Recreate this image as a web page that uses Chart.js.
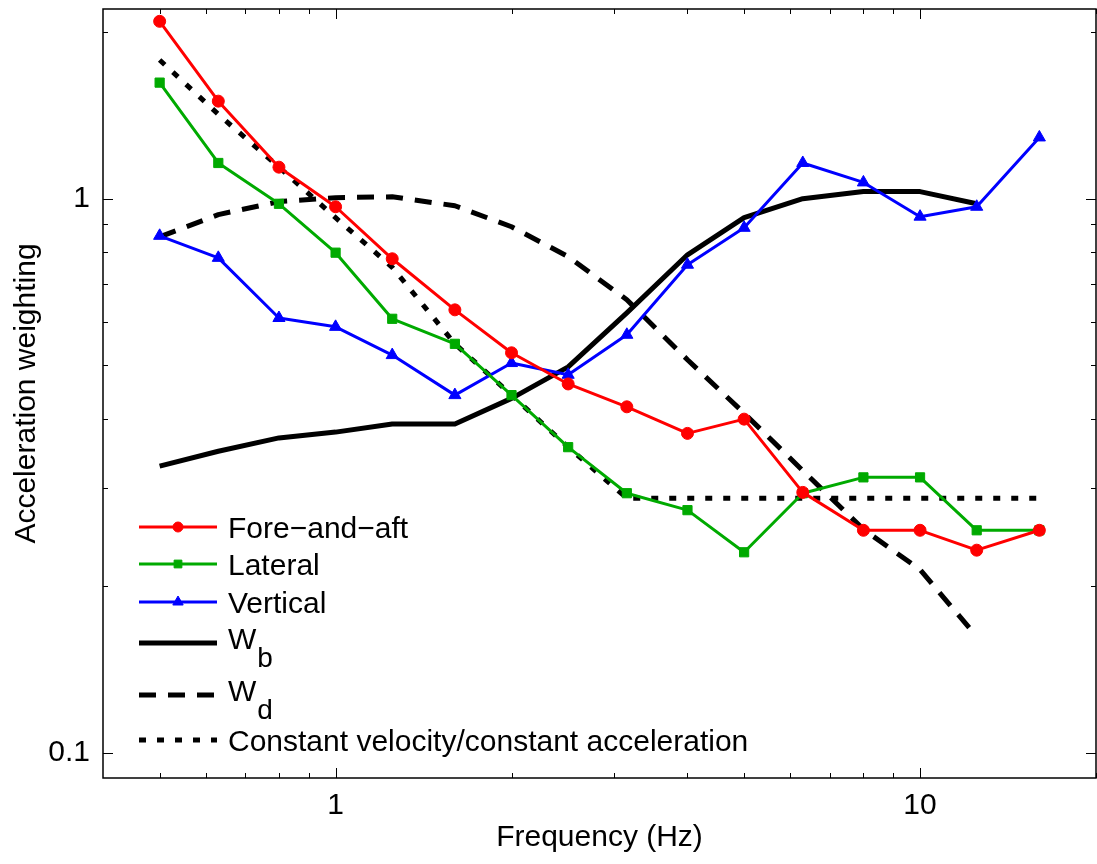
<!DOCTYPE html>
<html>
<head>
<meta charset="utf-8">
<script src="https://cdn.jsdelivr.net/npm/chart.js@4.4.1/dist/chart.umd.min.js"></script>
<style>
  html, body { margin: 0; padding: 0; background: #fff; }
  #wrap { width: 1097px; height: 864px; }
</style>
</head>
<body>
<div id="wrap"><canvas id="graph" width="1097" height="864"></canvas></div>
<script>
// one-third octave centre frequencies (Hz)
var freqs = [0.5, 0.63, 0.8, 1, 1.25, 1.6, 2, 2.5, 3.15, 4, 5, 6.3, 8, 10, 12.5, 16];
var foreAft = [2.09, 1.50, 1.14, 0.967, 0.779, 0.630, 0.527, 0.463, 0.421, 0.377, 0.400, 0.295, 0.252, 0.252, 0.232, 0.252];
var lateral = [1.62, 1.16, 0.979, 0.799, 0.607, 0.547, 0.442, 0.356, 0.294, 0.274, 0.230, 0.294, 0.314, 0.314, 0.252, 0.252];
var vertical = [0.857, 0.782, 0.609, 0.587, 0.522, 0.442, 0.505, 0.481, 0.568, 0.760, 0.886, 1.16, 1.07, 0.928, 0.967, 1.29];
// weightings stop at 12.5 Hz
var wb = [0.329, 0.350, 0.370, 0.379, 0.392, 0.392, 0.436, 0.497, 0.622, 0.792, 0.924, 1.00, 1.03, 1.03, 0.979];
var wd = [0.853, 0.936, 0.988, 1.004, 1.008, 0.971, 0.890, 0.786, 0.657, 0.512, 0.410, 0.323, 0.253, 0.214, 0.162];
var constVelAcc = [1.78, 1.42, 1.14, 0.924, 0.752, 0.547, 0.442, 0.356, 0.288, 0.288, 0.288, 0.288, 0.288, 0.288, 0.288, 0.288];

var xMajor = [1, 10];
var xMinor = [0.5, 0.6, 0.7, 0.8, 0.9, 2, 3, 4, 5, 6, 7, 8, 9, 20];
var yMajor = [0.1, 1];
var yMinor = [0.2, 0.3, 0.4, 0.5, 0.6, 0.7, 0.8, 0.9, 2];

var FONT = "'Liberation Sans', Arial, Helvetica, sans-serif";
var ctx = document.getElementById('graph').getContext('2d');

function pts(vals){
    return vals.map(function(v, i){ return {x: freqs[i], y: v}; });
}

// frame with inward ticks on all four sides, like the original
var framePlugin = {
    id: 'frame',
    afterDatasetsDraw: function(chart){
        var c = chart.ctx, a = chart.chartArea, sx = chart.scales.x, sy = chart.scales.y;
        c.save();
        c.strokeStyle = '#000';
        c.setLineDash([]);
        c.lineWidth = 1;
        function xt(v, len){
            var p = Math.round(sx.getPixelForValue(v)) + 0.5;
            c.beginPath();
            c.moveTo(p, a.bottom); c.lineTo(p, a.bottom - len);
            c.moveTo(p, a.top); c.lineTo(p, a.top + len);
            c.stroke();
        }
        function yt(v, len){
            var p = Math.round(sy.getPixelForValue(v)) + 0.5;
            c.beginPath();
            c.moveTo(a.left, p); c.lineTo(a.left + len, p);
            c.moveTo(a.right, p); c.lineTo(a.right - len, p);
            c.stroke();
        }
        xMajor.forEach(function(v){ xt(v, 10); });
        xMinor.forEach(function(v){ xt(v, 5); });
        yMajor.forEach(function(v){ yt(v, 10); });
        yMinor.forEach(function(v){ yt(v, 5); });
        c.lineWidth = 1.5;
        c.strokeRect(a.left, a.top, a.right - a.left, a.bottom - a.top);
        c.restore();
    }
};

// legend drawn by hand so W_b and W_d can have subscripts
var legendRows = [-251, -214, -176, -135, -83, -38];
var legendPlugin = {
    id: 'subLegend',
    afterDraw: function(chart){
        var c = chart.ctx, a = chart.chartArea;
        var x0 = a.left + 36, x1 = a.left + 114, tx = a.left + 125;
        c.save();
        chart.data.datasets.forEach(function(ds, i){
            var y = a.bottom + legendRows[i];
            c.strokeStyle = ds.borderColor;
            c.lineWidth = ds.borderWidth;
            c.setLineDash(ds.borderDash || []);
            c.beginPath();
            c.moveTo(x0, y); c.lineTo(x1, y);
            c.stroke();
            c.setLineDash([]);
            if(ds.pointRadius > 0){
                c.fillStyle = ds.backgroundColor;
                c.lineWidth = 1;
                Chart.helpers.drawPoint(c, {pointStyle: ds.pointStyle, radius: ds.pointRadius - 1, rotation: 0, borderWidth: 1}, (x0 + x1) / 2, y);
            }
            c.fillStyle = '#000';
            c.textBaseline = 'alphabetic';
            c.textAlign = 'left';
            c.font = '30px ' + FONT;
            if(ds.sub){
                c.fillText(ds.label, tx, y + 6);
                var w = c.measureText(ds.label).width;
                c.font = '28px ' + FONT;
                c.fillText(ds.sub, tx + w + 1, y + 24);
            }else{
                c.fillText(ds.label, tx, y + 11);
            }
        });
        c.restore();
    }
};

var datasets = [
    {label: 'Fore\u2212and\u2212aft', data: pts(foreAft), borderColor: '#ff0000', backgroundColor: '#ff0000',
     borderWidth: 3, pointStyle: 'circle', pointRadius: 6},
    {label: 'Lateral', data: pts(lateral), borderColor: '#00aa00', backgroundColor: '#00aa00',
     borderWidth: 3, pointStyle: 'rect', pointRadius: 6.5},
    {label: 'Vertical', data: pts(vertical), borderColor: '#0000ff', backgroundColor: '#0000ff',
     borderWidth: 3, pointStyle: 'triangle', pointRadius: 7},
    {label: 'W', sub: 'b', data: pts(wb), borderColor: '#000', backgroundColor: '#000',
     borderWidth: 5, pointRadius: 0},
    {label: 'W', sub: 'd', data: pts(wd), borderColor: '#000', backgroundColor: '#000',
     borderWidth: 5, borderDash: [17, 12], pointRadius: 0},
    {label: 'Constant velocity/constant acceleration', data: pts(constVelAcc), borderColor: '#000', backgroundColor: '#000',
     borderWidth: 5, borderDash: [7, 11], pointRadius: 0}
];
datasets.forEach(function(d){
    d.showLine = true;
    d.tension = 0;
    d.fill = false;
    d.pointBorderWidth = 1;
    d.pointBorderColor = d.borderColor;
    d.pointHoverRadius = d.pointRadius;
    d.borderCapStyle = 'butt';
    d.borderJoinStyle = 'round';
});

var chart = new Chart(ctx, {
    type: 'scatter',
    data: {datasets: datasets},
    plugins: [framePlugin, legendPlugin],
    options: {
        responsive: false,
        animation: false,
        events: [],
        layout: {autoPadding: false, padding: {top: 9, right: 1, left: 0, bottom: 0}},
        plugins: {legend: {display: false}, tooltip: {enabled: false}},
        scales: {
            x: {
                type: 'logarithmic', min: 0.4, max: 20,
                grid: {display: false, drawTicks: false},
                border: {display: false},
                afterBuildTicks: function(s){ s.ticks = xMajor.map(function(v){ return {value: v}; }); },
                afterFit: function(s){ s.height = 86; s.paddingLeft = 0; s.paddingRight = 0; },
                ticks: {color: '#000', padding: 10, maxRotation: 0, font: {family: FONT, size: 30},
                        callback: function(v){ return String(v); }},
                title: {display: true, text: 'Frequency (Hz)', color: '#000', font: {family: FONT, size: 30},
                        padding: {top: 0, bottom: 8}}
            },
            y: {
                type: 'logarithmic', min: 0.09, max: 2.2,
                grid: {display: false, drawTicks: false},
                border: {display: false},
                afterBuildTicks: function(s){ s.ticks = yMajor.map(function(v){ return {value: v}; }); },
                afterFit: function(s){ s.width = 103; s.paddingTop = 0; s.paddingBottom = 0; },
                ticks: {color: '#000', padding: 13, font: {family: FONT, size: 30},
                        callback: function(v){ return String(v); }},
                title: {display: true, text: 'Acceleration weighting', color: '#000', font: {family: FONT, size: 30},
                        padding: {top: 9, bottom: 0}}
            }
        }
    }
});
</script>
</body>
</html>
